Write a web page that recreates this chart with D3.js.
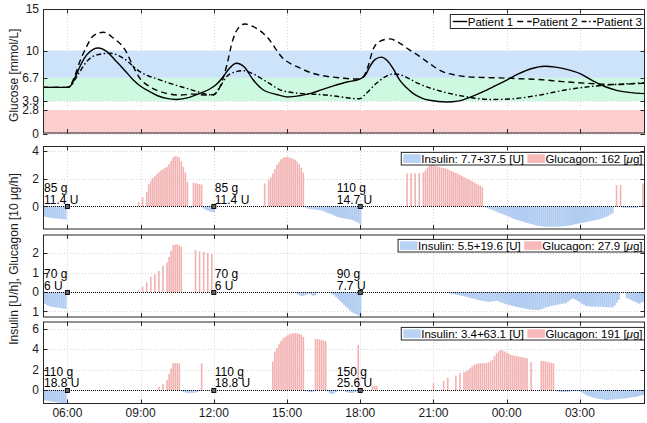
<!DOCTYPE html>
<html>
<head>
<meta charset="utf-8">
<script src="https://cdn.jsdelivr.net/npm/d3@7"></script>
<style>
  body { margin: 0; background: #fff; }
  svg { display: block; font-family: "Liberation Sans", Arial, Helvetica, sans-serif; }
</style>
</head>
<body>
<svg id="chart" width="647" height="423"></svg>
<script>
// ---------------------------------------------------------------
// Data
// ---------------------------------------------------------------
const patients = ["Patient 1", "Patient 2", "Patient 3"];

// Glucose targets [mmol/L]
const glucoseTicks = [0, 2.8, 3.9, 6.7, 10, 15];
const bandHyper = [6.7, 10];
const bandTarget = [3.9, 6.7];
const bandHypo = [0, 2.8];

// Glucose traces: hour of day (values > 24 are the next morning) and mmol/L
const p1Hours = [5.0, 6.0, 6.15, 6.3, 6.51, 6.79, 7.06, 7.26, 7.6, 8.0, 8.35, 8.7, 9.0, 9.38, 9.7, 10.06, 10.47, 11.0, 11.43, 11.8, 12.1, 12.4, 12.65, 12.93, 13.25, 13.6, 14.0, 14.57, 15.03, 15.5, 15.93, 16.4, 16.87, 17.45, 17.98, 18.2, 18.39, 18.6, 18.86, 19.1, 19.34, 19.61, 19.9, 20.16, 20.5, 20.84, 21.54, 22.0, 22.34, 23.0, 23.5, 23.98, 24.5, 25.0, 25.55, 26.0, 26.5, 26.98, 27.5, 28.07, 28.5, 29.0, 29.67];
const p1Glucose = [5.56, 5.56, 5.8, 6.65, 8.05, 9.47, 10.15, 10.3, 9.9, 8.7, 7.6, 6.45, 5.7, 5.03, 4.55, 4.23, 4.1, 4.35, 4.84, 5.3, 5.9, 6.9, 7.9, 8.46, 8.0, 6.5, 5.3, 4.7, 4.4, 4.55, 4.8, 5.25, 5.7, 6.2, 6.56, 7.0, 8.05, 8.9, 9.2, 8.8, 7.86, 6.45, 5.5, 4.84, 4.3, 4.0, 3.8, 3.9, 4.2, 5.0, 5.7, 6.4, 7.2, 7.8, 8.1, 8.0, 7.7, 7.25, 6.4, 5.6, 5.2, 4.95, 4.8];

const p2Hours = [5.0, 6.0, 6.15, 6.3, 6.51, 6.79, 7.06, 7.47, 7.88, 8.36, 8.7, 8.97, 9.38, 10.06, 10.6, 11.15, 11.7, 12.0, 12.25, 12.52, 12.78, 13.0, 13.27, 13.6, 14.16, 14.82, 15.52, 16.0, 16.61, 17.2, 17.84, 18.11, 18.32, 18.52, 18.8, 19.2, 19.61, 20.0, 20.43, 20.9, 21.37, 21.9, 22.34, 23.0, 23.7, 24.5, 25.34, 26.3, 27.26, 27.9, 28.48, 29.1, 29.67];
const p2Glucose = [5.56, 5.56, 5.9, 6.9, 8.66, 10.5, 11.77, 12.2, 11.5, 10.1, 8.05, 6.65, 5.63, 4.84, 4.63, 4.75, 4.63, 4.7, 5.6, 8.1, 11.3, 12.7, 13.2, 12.9, 11.7, 9.1, 7.9, 7.3, 6.9, 6.7, 6.56, 6.8, 8.1, 10.1, 11.1, 11.4, 10.9, 10.1, 9.3, 8.3, 7.45, 7.05, 6.85, 6.75, 6.7, 6.6, 6.5, 6.25, 6.05, 5.95, 5.9, 5.98, 6.05];

const p3Hours = [5.0, 6.0, 6.15, 6.3, 6.51, 6.79, 7.2, 7.74, 8.29, 8.97, 9.79, 10.88, 11.7, 11.96, 12.25, 12.52, 12.85, 13.2, 13.6, 14.16, 14.82, 15.52, 16.61, 17.15, 17.98, 18.2, 18.66, 19.0, 19.34, 19.61, 20.0, 20.4, 21.37, 22.34, 23.3, 24.1, 25.34, 26.4, 27.77, 28.7, 29.67];
const p3Glucose = [5.56, 5.56, 5.75, 6.45, 7.45, 8.66, 9.47, 9.67, 9.07, 7.45, 6.45, 5.44, 4.75, 4.6, 5.6, 6.85, 7.4, 7.57, 7.2, 6.24, 5.15, 4.84, 4.63, 4.43, 4.18, 4.7, 6.05, 6.8, 7.17, 7.1, 6.6, 6.0, 5.03, 4.43, 4.1, 4.15, 4.63, 5.24, 5.76, 5.95, 6.1];

// Infusion rates, one value per 5-minute slot, grouped in runs: [start clock, rates]
// ("+" marks a clock time on the following morning)
// Insulin in U/h (drawn below zero), glucagon in 10 ug/h
const p1Insulin = [
  ["05:00", [0.70, 0.74, 0.78, 0.81, 0.83, 0.85, 0.87, 0.88, 0.90, 0.91, 0.93, 0.95]],
  ["11:00", [0.1, 0.1]],
  ["11:35", [0.15, 0.25, 0.3, 0.35, 0.4, 0.4]],
  ["15:50", [0.15, 0.17, 0.2, 0.22, 0.24, 0.26, 0.27, 0.3, 0.35, 0.42, 0.48, 0.52, 0.58, 0.65, 0.72, 0.78, 0.8, 0.83, 0.86, 0.9, 0.92, 0.94, 0.98, 1.04, 1.1, 1.18, 1.28]],
  ["23:05", [0.05, 0.1, 0.15, 0.2, 0.26, 0.32, 0.39, 0.45, 0.5, 0.56, 0.62, 0.68, 0.74, 0.8, 0.87, 0.92, 0.97, 1.02, 1.06, 1.1, 1.15, 1.19, 1.23, 1.27, 1.31, 1.35, 1.39, 1.42, 1.44, 1.45, 1.46, 1.47, 1.47, 1.47, 1.47, 1.46, 1.46, 1.45, 1.44, 1.43, 1.42, 1.4, 1.38, 1.35, 1.32, 1.28, 1.25, 1.22, 1.19, 1.16, 1.13, 1.1, 1.07, 1.04, 1.01, 0.99, 0.95, 0.9, 0.85, 0.8, 0.75, 0.66, 0.58, 0.5]],
  ["+04:45", [0.1, 0.1, 0.1, 0.1, 0.1, 0.1, 0.1, 0.1]]
];
const p1Glucagon = [
  ["08:55", [0.33, 0, 0.65, 0, 1.05, 1.6, 1.85, 2.05, 2.2, 2.35, 2.48, 2.6, 2.7, 2.78, 2.85, 3.05, 3.3, 3.55, 3.63, 3.62, 3.55, 3.25, 2.85, 2.45, 1.78]],
  ["11:10", [1.71, 1.68, 1.65, 1.62, 1.58]],
  ["14:05", [1.66, 0, 1.9, 2.1, 2.38, 2.7, 3.0, 3.2, 3.4, 3.52, 3.57, 3.58, 3.55, 3.5, 3.45, 3.38, 3.25, 3.05, 2.8, 2.45]],
  ["19:55", [2.38, 0, 2.38, 0, 2.4, 0, 2.42, 0, 2.45, 2.6, 2.8, 2.95, 3.0, 2.98, 2.95, 2.9, 2.85, 2.8, 2.78, 2.74, 2.68, 2.6, 2.55, 2.48, 2.42, 2.36, 2.28, 2.2, 2.12, 2.04, 1.97, 1.9, 1.82, 1.74, 1.66, 1.58, 1.5, 1.4]],
  ["+04:30", [1.54, 0, 1.54]],
  ["+05:35", [1.65]]
];

const p2Insulin = [
  ["05:00", [0.5, 0.6, 0.68, 0.72, 0.75, 0.77, 0.79, 0.8, 0.82, 0.83, 0.85, 0.87]],
  ["15:25", [0.1, 0.15, 0.2, 0.2, 0.15, 0.1, 0.1, 0.15, 0.2, 0.15]],
  ["16:50", [0.1, 0.15, 0.25, 0.35, 0.45, 0.55, 0.65, 0.75, 0.85, 0.95, 1.05, 1.1, 1.15, 1.2, 1.25]],
  ["21:40", [0.07, 0.09, 0.11, 0.13, 0.15, 0.17, 0.19, 0.22, 0.24, 0.27, 0.3, 0.32, 0.35, 0.38, 0.41, 0.43, 0.45, 0.47, 0.49, 0.5, 0.5, 0.48, 0.46, 0.45, 0.48, 0.52, 0.56, 0.6, 0.63, 0.66, 0.69, 0.72, 0.74, 0.77, 0.79, 0.81, 0.83, 0.85, 0.87, 0.89, 0.9, 0.91, 0.92, 0.92, 0.92, 0.88, 0.84, 0.8, 0.77, 0.74, 0.71, 0.69, 0.67, 0.65, 0.63, 0.61, 0.59, 0.58, 0.5, 0.42, 0.33, 0.35, 0.4, 0.46, 0.52, 0.6, 0.66, 0.72, 0.73, 0.74, 0.74, 0.75, 0.75, 0.76, 0.76, 0.77, 0.77, 0.78, 0.78, 0.79, 0.79, 0.7, 0.55, 0.4]],
  ["+04:55", [0.3, 0.35, 0.4, 0.45, 0.5, 0.55, 0.6, 0.55, 0.5]]
];
const p2Glucagon = [
  ["08:55", [0.1, 0, 0.27, 0, 0.5, 0, 0.79, 0, 0.91, 0, 1.09, 0, 1.35, 0, 1.52, 1.81, 2.12, 2.41, 2.44, 2.46, 2.4, 2.32]],
  ["11:15", [2.15, 0, 2.1, 0, 2.07, 0, 2.02, 0, 1.95]]
];

const p3Insulin = [
  ["05:00", [0.98, 1.02, 1.06, 1.1, 1.13, 1.16, 1.19, 1.22, 1.25, 1.27, 1.29, 1.31]],
  ["10:40", [0.1, 0.2, 0.25, 0.3, 0.3, 0.3, 0.28, 0.25, 0.2, 0.1]],
  ["15:45", [0.1, 0.15, 0.2, 0.2, 0.15]],
  ["16:40", [0.15, 0.3, 0.4, 0.35, 0.2]],
  ["17:25", [0.2, 0.25, 0.3, 0.3, 0.25, 0.2]],
  ["+02:05", [0.15, 0.18, 0.2, 0.2, 0.2, 0.18, 0.15, 0.12, 0.1, 0.1, 0.1, 0.15, 0.25, 0.35, 0.5, 0.58, 0.65, 0.72, 0.78, 0.82, 0.86, 0.9, 0.93, 0.96, 0.98, 0.97, 0.95, 0.93, 0.91, 0.9, 0.88, 0.86, 0.84, 0.83, 0.82, 0.78, 0.74, 0.7, 0.68, 0.66, 0.6, 0.55, 0.5]]
];
const p3Glucagon = [
  ["09:45", [0.33, 0, 0.59, 0, 0.98, 1.57, 2.13, 2.62, 2.62, 2.62, 2.6]],
  ["11:30", [2.62]],
  ["14:25", [2.79, 3.77, 4.1, 4.5, 4.8, 5.05, 5.2, 5.35, 5.45, 5.52, 5.57, 5.57, 5.57, 5.5, 5.4, 5.2]],
  ["16:10", [5.0, 5.0, 4.95, 4.9, 4.85, 4.75]],
  ["17:55", [4.4]],
  ["18:30", [0.42, 0.42, 0.42]],
  ["21:00", [0.66, 0, 0, 0, 0, 0.88, 0, 1.21, 0, 0, 0, 1.41, 0, 1.64, 0, 1.74, 1.8, 1.95, 2.13, 2.3, 2.46, 2.55, 2.6, 2.62, 2.63, 2.64, 2.65, 2.7, 2.8, 2.95, 3.3, 3.61, 3.8, 3.93, 3.88, 3.77, 3.65, 3.55, 3.44, 3.4, 3.36, 3.32, 3.28, 3.24, 3.2, 3.15, 3.11]],
  ["+01:00", [2.72]],
  ["+01:25", [2.85, 2.84, 2.8, 2.75, 2.7, 2.66, 2.62]]
];

// Meals: time, carbohydrates [g], bolus [U]; label anchor time
const mealTimes = ["06:00", "12:00", "18:00"];
const mealLabelTimes = ["05:00", "12:00", "17:00"];
const mealCarbs = [[85, 85, 110], [70, 70, 90], [110, 110, 150]];
const mealBolus = [[11.4, 11.4, 14.7], [6, 6, 7.7], [18.8, 18.8, 25.6]];

// Totals shown in each legend
const insulinTotals = ["7.7+37.5", "5.5+19.6", "3.4+63.1"];
const glucagonTotals = ["162", "27.9", "191"];

// Rate axes
const rateTicks = [[0, 2, 4], [-1, 0, 1, 2], [0, 2, 4, 6]];
const rateDomains = [[-1.67, 4.37], [-1.31, 2.96], [-1.38, 6.72]];

// ---------------------------------------------------------------
// Helpers
// ---------------------------------------------------------------
const HOUR = 3600e3, SLOT = 5 * 60e3;
const base = new Date(2020, 0, 1, 0, 0);
const atHour = h => new Date(+base + h * HOUR);
function clock(s) {
  const next = s[0] === "+";
  const [h, m] = s.replace("+", "").split(":").map(Number);
  return atHour((next ? 24 : 0) + h + m / 60);
}
function expand(runs) {
  const out = [];
  runs.forEach(([start, vals]) => {
    const t0 = +clock(start);
    vals.forEach((v, k) => { if (v > 0) out.push({ t: new Date(t0 + k * SLOT), v }); });
  });
  return out;
}

// ---------------------------------------------------------------
// Layout & styles
// ---------------------------------------------------------------
const L = 43, R = 645;
const AXIS = "#262626", GRID = "#d4d4d4";
const FS = 12;
const C = {
  hyper: "#cde3fa", target: "#cdf9e1", hypo: "#fccece",
  insulin: "#b2cdf1", glucagon: "#f3b2b2",
  insulinKey: "#b9d3f6", glucagonKey: "#f7b9b9"
};

const svg = d3.select("#chart");
const x = d3.scaleTime().domain([clock("05:00"), clock("+05:40")]).range([L, R]);
const xTicks = x.ticks(d3.timeHour.every(3));
const fmt = d3.timeFormat("%H:%M");

const defs = svg.append("defs");
function clipFor(id, top, bottom) {
  defs.append("clipPath").attr("id", id).append("rect")
    .attr("x", L).attr("y", top).attr("width", R - L).attr("height", bottom - top);
  return `url(#${id})`;
}

function frame(g, y, top, bottom, yTicks, labelFmt) {
  g.append("rect").attr("x", L + 0.5).attr("y", top + 0.5)
    .attr("width", R - L - 1).attr("height", bottom - top - 1)
    .attr("fill", "none").attr("stroke", AXIS).attr("stroke-width", 1);
  const tk = 4.5;
  xTicks.forEach(t => {
    const xx = Math.round(x(t)) + 0.5;
    g.append("line").attr("x1", xx).attr("x2", xx).attr("y1", top).attr("y2", top + tk).attr("stroke", AXIS);
    g.append("line").attr("x1", xx).attr("x2", xx).attr("y1", bottom - tk).attr("y2", bottom).attr("stroke", AXIS);
  });
  yTicks.forEach(v => {
    const yy = Math.round(y(v)) + 0.5;
    g.append("line").attr("x1", L).attr("x2", L + tk).attr("y1", yy).attr("y2", yy).attr("stroke", AXIS);
    g.append("line").attr("x1", R - tk).attr("x2", R).attr("y1", yy).attr("y2", yy).attr("stroke", AXIS);
    g.append("text").attr("x", L - 4).attr("y", y(v)).attr("dy", "0.35em")
      .attr("text-anchor", "end").attr("font-size", FS).attr("fill", "#1a1a1a")
      .text(labelFmt(v));
  });
}

function grid(g, y, top, bottom, yTicks) {
  xTicks.forEach(t => {
    const xx = Math.round(x(t)) + 0.5;
    g.append("line").attr("x1", xx).attr("x2", xx).attr("y1", top).attr("y2", bottom)
      .attr("stroke", GRID).attr("stroke-dasharray", "1,2");
  });
  yTicks.forEach(v => {
    const yy = Math.round(y(v)) + 0.5;
    g.append("line").attr("x1", L).attr("x2", R).attr("y1", yy).attr("y2", yy)
      .attr("stroke", GRID).attr("stroke-dasharray", "1,2");
  });
}

// ---------------------------------------------------------------
// Glucose panel
// ---------------------------------------------------------------
{
  const top = 9, bottom = 133.5;
  const y = d3.scaleLinear().domain([0, 15]).range([bottom, top]);
  const g = svg.append("g");
  grid(g, y, top, bottom, glucoseTicks);
  const bands = [[bandHyper, C.hyper], [bandTarget, C.target], [bandHypo, C.hypo]];
  bands.forEach(([b, col]) => {
    g.append("rect").attr("x", L).attr("width", R - L)
      .attr("y", y(b[1])).attr("height", y(b[0]) - y(b[1])).attr("fill", col);
  });
  const traces = [
    [p1Hours, p1Glucose, null],
    [p2Hours, p2Glucose, "6,4"],
    [p3Hours, p3Glucose, "5,2.5,1.5,2.5"]
  ];
  const line = d3.line().x(d => x(atHour(d[0]))).y(d => y(d[1])).curve(d3.curveMonotoneX);
  const clip = clipFor("clipG", top, bottom);
  traces.forEach(([hrs, vals, dash]) => {
    g.append("path").attr("clip-path", clip)
      .attr("d", line(hrs.map((h, i) => [h, vals[i]])))
      .attr("fill", "none").attr("stroke", "#000").attr("stroke-width", 1.4)
      .attr("stroke-dasharray", dash);
  });
  frame(g, y, top, bottom, glucoseTicks, d => String(d));

  // legend
  const lg = g.append("g");
  const dashes = [null, "6,4", "5,2.5,1.5,2.5"];
  let cx = 0;
  patients.forEach((p, i) => {
    const it = lg.append("g");
    it.append("line").attr("x1", cx + 2.5).attr("x2", cx + 17).attr("y1", 0).attr("y2", 0)
      .attr("stroke", "#000").attr("stroke-width", 1.4).attr("stroke-dasharray", dashes[i]);
    const tx = it.append("text").attr("x", cx + 17.5).attr("y", 4).attr("font-size", 11.5)
      .attr("fill", "#000").text(p);
    cx += 17.5 + tx.node().getComputedTextLength() + 1.5;
  });
  const boxW = cx + 1, bx = R - 1 - boxW, by = 14, bh = 14;
  lg.insert("rect", ":first-child").attr("x", 0).attr("y", -7).attr("width", boxW).attr("height", bh)
    .attr("fill", "#fff").attr("stroke", AXIS).attr("stroke-width", 1);
  lg.attr("transform", `translate(${bx + 0.5},${by + 7.5})`);

  svg.append("text").attr("transform", `translate(18,${(top + bottom) / 2 + 4}) rotate(-90)`)
    .attr("text-anchor", "middle").attr("font-size", FS).attr("fill", "#1a1a1a")
    .text("Glucose [mmol/L]");
}

// ---------------------------------------------------------------
// Insulin / glucagon panels
// ---------------------------------------------------------------
const ratePanels = [
  { top: 146, bottom: 229.5, ins: p1Insulin, glu: p1Glucagon, legendY: 152.3 },
  { top: 234.5, bottom: 317.5, ins: p2Insulin, glu: p2Glucagon, legendY: 239.3 },
  { top: 321.5, bottom: 404, ins: p3Insulin, glu: p3Glucagon, legendY: 327.3 }
];
const step = x(new Date(+clock("12:00") + SLOT)) - x(clock("12:00"));

ratePanels.forEach((P, pi) => {
  const y = d3.scaleLinear().domain(rateDomains[pi]).range([P.bottom, P.top]);
  const g = svg.append("g");
  const clip = clipFor("clipR" + pi, P.top, P.bottom);
  grid(g, y, P.top, P.bottom, rateTicks[pi]);

  const bars = g.append("g").attr("clip-path", clip);
  bars.selectAll(".ins").data(expand(P.ins)).join("rect")
    .attr("x", d => x(d.t) - step / 2).attr("width", step + 0.15)
    .attr("y", y(0)).attr("height", d => y(-d.v) - y(0))
    .attr("fill", C.insulin);
  bars.selectAll(".glu").data(expand(P.glu)).join("rect")
    .attr("x", d => x(d.t) - step * 0.4).attr("width", step * 0.8)
    .attr("y", d => y(d.v)).attr("height", d => y(0) - y(d.v))
    .attr("fill", C.glucagon);

  // zero reference
  const y0 = Math.round(y(0)) + 0.5;
  g.append("line").attr("x1", L).attr("x2", R).attr("y1", y0).attr("y2", y0)
    .attr("stroke", "#000").attr("stroke-width", 1).attr("stroke-dasharray", "1,1");

  // meals
  mealTimes.forEach((m, k) => {
    const mx = x(clock(m));
    g.append("rect").attr("x", mx - 2).attr("y", y0 - 2).attr("width", 4).attr("height", 4)
      .attr("fill", "#666").attr("stroke", "#000").attr("stroke-width", 0.9);
    const lx = x(clock(mealLabelTimes[k])) + 1;
    const t = g.append("text").attr("font-size", FS).attr("fill", "#000");
    t.append("tspan").attr("x", lx).attr("y", y(0) - 14).text(`${mealCarbs[pi][k]} g`);
    t.append("tspan").attr("x", lx).attr("y", y(0) - 2.5).text(`${mealBolus[pi][k]} U`);
  });

  frame(g, y, P.top, P.bottom, rateTicks[pi], d => String(Math.abs(d)));

  // legend
  const lg = g.append("g");
  const parts = [
    [C.insulinKey, `Insulin: ${insulinTotals[pi]} [U]`, null],
    [C.glucagonKey, `Glucagon: ${glucagonTotals[pi]} [`, "g]"]
  ];
  let cx = 0;
  parts.forEach(([col, label, tail]) => {
    lg.append("rect").attr("x", cx + 2).attr("y", -4.3).attr("width", 17.5).attr("height", 8.6).attr("fill", col);
    const tx = lg.append("text").attr("x", cx + 20).attr("y", 4).attr("font-size", 11.5).attr("fill", "#000");
    tx.append("tspan").text(label);
    if (tail) {
      tx.append("tspan").attr("font-style", "italic").text("\u03bc");
      tx.append("tspan").text(tail);
    }
    cx += 20 + tx.node().getComputedTextLength() + 1.5;
  });
  const boxW = cx + 0.5;
  lg.insert("rect", ":first-child").attr("x", 0).attr("y", -6.2).attr("width", boxW).attr("height", 12.6)
    .attr("fill", "#fff").attr("stroke", AXIS).attr("stroke-width", 1);
  lg.attr("transform", `translate(${R - 0.5 - boxW},${P.legendY + 6.3})`);

  if (pi === ratePanels.length - 1) {
    xTicks.forEach(t => {
      g.append("text").attr("x", x(t)).attr("y", 417).attr("text-anchor", "middle")
        .attr("font-size", FS).attr("fill", "#1a1a1a").text(fmt(t));
    });
  }
});

svg.append("text")
  .attr("transform", "translate(18,259) rotate(-90)")
  .attr("text-anchor", "middle").attr("font-size", FS).attr("fill", "#1a1a1a")
  .text("Insulin [U/h], Glucagon [10 \u03bcg/h]");
</script>
</body>
</html>
